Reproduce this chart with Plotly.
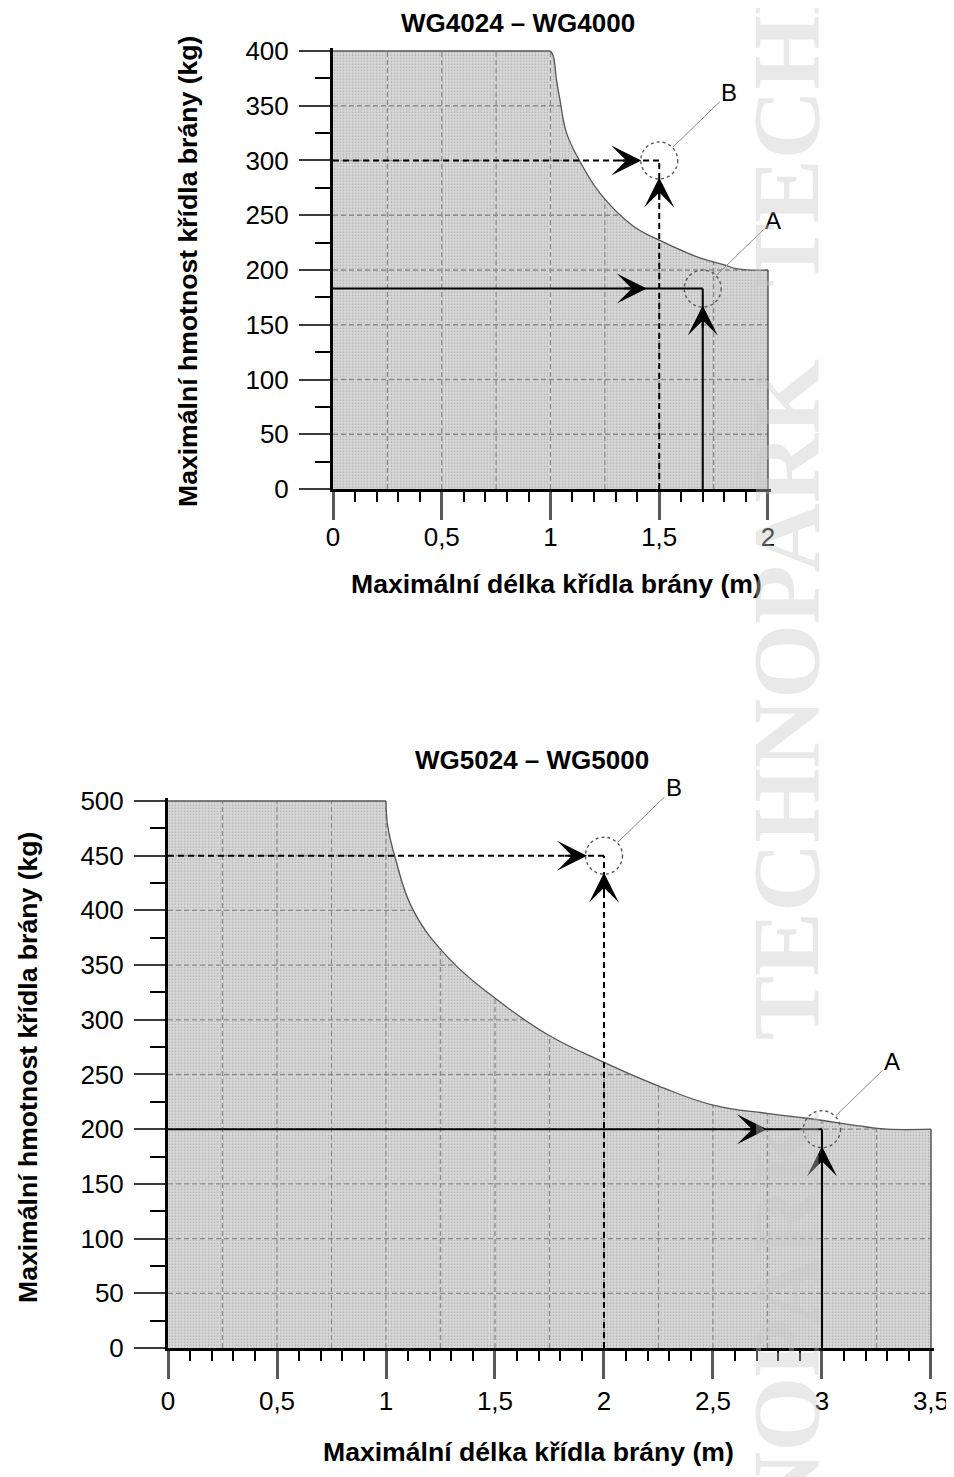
import numpy as np
import plotly.graph_objects as go

# page body has an 8px margin: the figure is shifted by it
OFF = 8
W, H = 954 - OFF, 1477 - OFF

# ---------------- data ----------------
# WG4024 – WG4000 : permitted region boundary (gate leaf length m, leaf mass kg)
wg4_len = [0, 1.0, 1.013, 1.028, 1.044, 1.074, 1.136, 1.228, 1.381, 1.503, 1.687, 1.795, 1.86, 2.0]
wg4_mass = [400, 400, 395, 373, 355, 325, 299, 270, 240, 227, 211, 205, 201, 200]
# WG5024 – WG5000
wg5_len = [0, 1.0, 1.008, 1.041, 1.125, 1.294, 1.492, 1.737, 1.99, 2.257, 2.50, 2.746, 2.93, 3.205, 3.3, 3.5]
wg5_mass = [500, 500, 477, 449, 400, 355, 321, 287, 262, 239, 222, 214.5, 210, 202, 200, 200]

# example points A (inside) and B (outside)
wg4_A = [1.7, 183]
wg4_B = [1.5, 300]
wg5_A = [3.0, 200]
wg5_B = [2.0, 450]

# tick values / labels
wg4_x_ticks = [0, 0.5, 1, 1.5, 2]
wg4_x_labels = ["0", "0,5", "1", "1,5", "2"]
wg4_y_ticks = [0, 50, 100, 150, 200, 250, 300, 350, 400]
wg5_x_ticks = [0, 0.5, 1, 1.5, 2, 2.5, 3, 3.5]
wg5_x_labels = ["0", "0,5", "1", "1,5", "2", "2,5", "3", "3,5"]
wg5_y_ticks = [0, 50, 100, 150, 200, 250, 300, 350, 400, 450, 500]

title4 = "WG4024 – WG4000"
title5 = "WG5024 – WG5000"
x_title = "Maximální délka křídla brány (m)"
y_title = "Maximální hmotnost křídla brány (kg)"
watermark = "TECHNOPARK"

FONT = "Liberation Sans, Arial, Helvetica, sans-serif"
SMOOTH = 1.2

fig = go.Figure()


def px_x(p):
    return (p - OFF) / W


def px_y(p):
    return 1 - (p - OFF) / H


def add_chart(lens, masses, A, B, xa, ya, A_h_off, B_h_off, v_off):
    xmax, ymax = lens[-1], masses[0]
    xr, yr = xa.replace("axis", ""), ya.replace("axis", "")
    common = dict(xaxis=xr, yaxis=yr, hoverinfo="skip", showlegend=False)
    pattern = dict(shape=".", size=3, solidity=0.25, fgcolor="#adadad",
                   bgcolor="#d9d9d9", fillmode="replace")
    # flat top part of the boundary and the curved part (smoothed)
    flat_x, flat_y = lens[:2], masses[:2]
    curv_x, curv_y = lens[1:], masses[1:]
    # grey permitted region
    fig.add_trace(go.Scatter(x=flat_x, y=flat_y, mode="lines", fill="tozeroy",
                             fillcolor="#d4d4d4", fillpattern=pattern,
                             line=dict(width=0), **common))
    fig.add_trace(go.Scatter(x=curv_x, y=curv_y, mode="lines", fill="tozeroy",
                             fillcolor="#d4d4d4", fillpattern=pattern,
                             line=dict(width=0, shape="spline", smoothing=SMOOTH),
                             **common))
    # grid (every 0.25 m, every 50 kg)
    gx = np.arange(0.25, xmax - 1e-9, 0.25)
    gy = np.arange(50, ymax - 1e-9, 50)
    lx, ly = [], []
    for v in gx:
        lx += [v, v, None]
        ly += [0, ymax, None]
    for v in gy:
        lx += [0, xmax, None]
        ly += [v, v, None]
    fig.add_trace(go.Scatter(x=lx, y=ly, mode="lines",
                             line=dict(color="#8c8c8c", width=1.3, dash="5px,3px"),
                             **common))
    # white area between the curved boundary and the top of the chart
    fig.add_trace(go.Scatter(x=[curv_x[0], xmax], y=[ymax, ymax], mode="lines",
                             line=dict(width=0), **common))
    fig.add_trace(go.Scatter(
        x=curv_x, y=curv_y, mode="lines", fill="tonexty", fillcolor="white",
        line=dict(color="#555555", width=1.3, shape="spline", smoothing=SMOOTH),
        **common))
    # flat top edge and right edge of the region
    fig.add_trace(go.Scatter(x=flat_x, y=flat_y, mode="lines",
                             line=dict(color="#555555", width=1.5), **common))
    fig.add_trace(go.Scatter(x=[xmax, xmax], y=[masses[-1], 0], mode="lines",
                             line=dict(color="#555555", width=1.5), **common))
    # B guide lines (dashed)
    fig.add_trace(go.Scatter(
        x=[0, B[0], None, B[0], B[0]], y=[B[1], B[1], None, 0, B[1]], mode="lines",
        line=dict(color="black", width=2, dash="6px,4px"), **common))
    # A guide lines (solid)
    fig.add_trace(go.Scatter(
        x=[0, A[0], None, A[0], A[0]], y=[A[1], A[1], None, 0, A[1]], mode="lines",
        line=dict(color="black", width=2), **common))
    # circles
    for P in (A, B):
        fig.add_shape(type="circle", xref=xr, yref=yr, xsizemode="pixel",
                      ysizemode="pixel", xanchor=P[0], yanchor=P[1],
                      x0=-18.5, x1=18.5, y0=-18.5, y1=18.5,
                      line=dict(color="#5a5a5a", width=1.4, dash="dot"))
    # arrow heads
    for P, off_h in ((A, A_h_off), (B, B_h_off)):
        fig.add_annotation(x=P[0], y=P[1], xref=xr, yref=yr, text="",
                           showarrow=True, ax=-(off_h + 24), ay=0,
                           arrowhead=3, arrowsize=2.5, arrowwidth=2,
                           arrowcolor="black", standoff=off_h)
        fig.add_annotation(x=P[0], y=P[1], xref=xr, yref=yr, text="",
                           showarrow=True, ax=0, ay=(v_off + 24),
                           arrowhead=3, arrowsize=2.5, arrowwidth=2,
                           arrowcolor="black", standoff=v_off)
    # labels with leader lines
    for P, name in ((A, "A"), (B, "B")):
        fig.add_annotation(x=P[0], y=P[1], xref=xr, yref=yr, text=name,
                           showarrow=True, ax=70, ay=-68, arrowhead=0,
                           arrowwidth=1, arrowcolor="#8a8a8a", standoff=19,
                           xanchor="center", yanchor="middle",
                           font=dict(size=24, color="black", family=FONT))


add_chart(wg4_len, wg4_mass, wg4_A, wg4_B, "xaxis", "yaxis", 56, 18, 17)
add_chart(wg5_len, wg5_mass, wg5_A, wg5_B, "xaxis2", "yaxis2", 55, 17, 17)

tickfont = dict(family=FONT, size=26, color="black")


def xaxis_cfg(rng, dom, vals, labels, anchor, standoff):
    return dict(range=rng, domain=dom, anchor=anchor, tickvals=vals, ticktext=labels,
                ticks="outside", ticklen=28, tickwidth=3, tickcolor="#5a5a5a",
                minor=dict(dtick=0.1, tick0=0, ticks="outside", ticklen=10,
                           tickwidth=2, tickcolor="black", showgrid=False),
                showline=True, linewidth=3, linecolor="black", showgrid=False,
                zeroline=False, tickfont=tickfont, ticklabelstandoff=standoff,
                automargin=False, fixedrange=True)


def yaxis_cfg(rng, dom, vals, anchor):
    return dict(range=rng, domain=dom, anchor=anchor, tickvals=vals,
                ticks="outside", ticklen=31, tickwidth=2, tickcolor="#3a3a3a",
                minor=dict(dtick=25, tick0=0, ticks="outside", ticklen=15,
                           tickwidth=1.5, tickcolor="black", showgrid=False),
                showline=True, linewidth=3, linecolor="black", showgrid=False,
                zeroline=False, tickfont=tickfont, ticklabelstandoff=5,
                automargin=False, fixedrange=True)


fig.update_layout(
    width=W, height=H, margin=dict(l=0, r=0, t=0, b=0), autosize=False,
    paper_bgcolor="white", plot_bgcolor="white", showlegend=False,
    xaxis=xaxis_cfg([0, 2.012], [px_x(333), px_x(770.6)], wg4_x_ticks, wg4_x_labels, "y", -5),
    yaxis=yaxis_cfg([0, 403], [px_y(489), px_y(47.7)], wg4_y_ticks, "x"),
    xaxis2=xaxis_cfg([0, 3.512], [px_x(168), px_x(933.6)], wg5_x_ticks, wg5_x_labels, "y2", 0),
    yaxis2=yaxis_cfg([0, 503], [px_y(1348), px_y(797.7)], wg5_y_ticks, "x2"),
)

bold = dict(family=FONT, size=26, color="black")
bold_ax = dict(family=FONT, size=26.6, color="black")
ann = dict(xref="paper", yref="paper", showarrow=False, xanchor="center", yanchor="middle")
# chart titles
fig.add_annotation(text="<b>" + title4 + "</b>", x=px_x(518), y=px_y(23), font=bold, **ann)
fig.add_annotation(text="<b>" + title5 + "</b>", x=px_x(532), y=px_y(760), font=bold, **ann)
# axis titles
fig.add_annotation(text="<b>" + x_title + "</b>", x=px_x(556), y=px_y(584), font=bold_ax, **ann)
fig.add_annotation(text="<b>" + x_title + "</b>", x=px_x(528), y=px_y(1452), font=bold_ax, **ann)
fig.add_annotation(text="<b>" + y_title + "</b>", x=px_x(188), y=px_y(272), font=bold_ax,
                   textangle=-90, **ann)
fig.add_annotation(text="<b>" + y_title + "</b>", x=px_x(28), y=px_y(1068), font=bold_ax,
                   textangle=-90, **ann)

# watermark (repeated, reading bottom to top)
gap = "\u00a0" * 3
fig.add_annotation(text="<b>" + gap.join([watermark] * 3) + "</b>", x=px_x(786), y=px_y(700),
                   textangle=-90,
                   font=dict(family="Liberation Serif, Times New Roman, serif",
                             size=96, color="rgba(200,200,200,0.4)"), **ann)

fig.write_html("out.html")
